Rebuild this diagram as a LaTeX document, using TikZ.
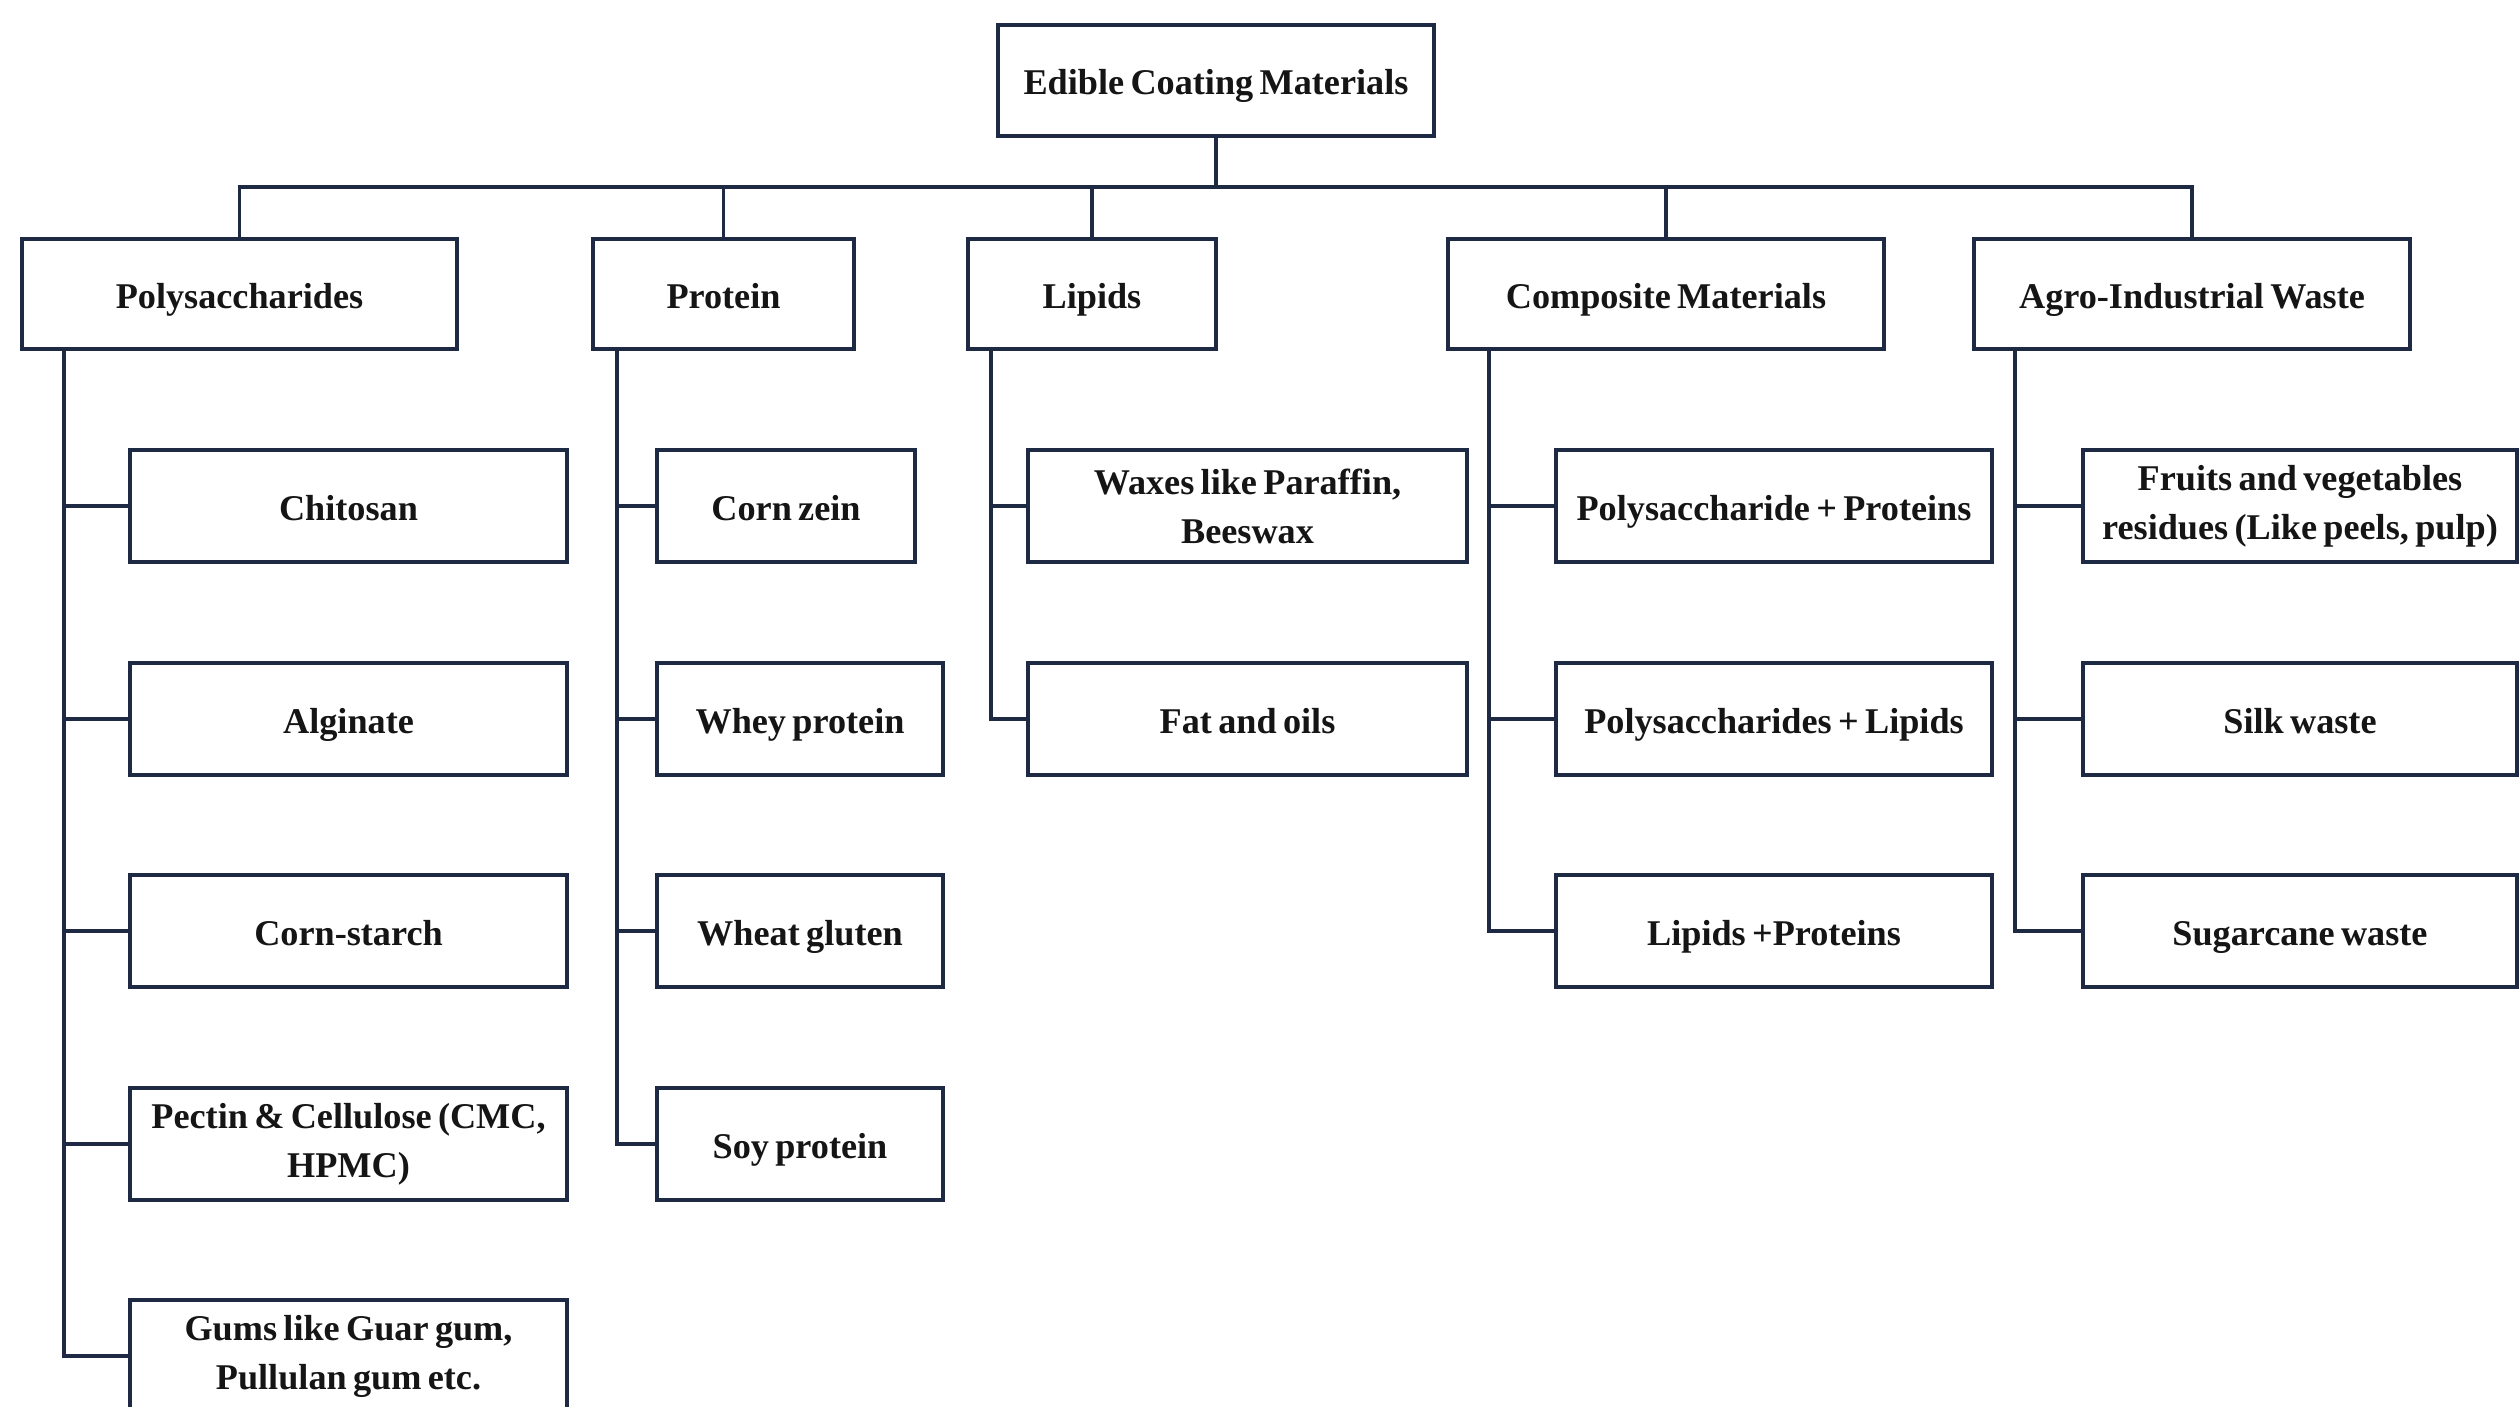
\documentclass[tikz,border=0pt]{standalone}
\usepackage{fontspec}
\setmainfont{Liberation Serif}[WordSpace=0.7]
\definecolor{navy}{HTML}{1E2A44}
\definecolor{ink}{HTML}{151515}
\begin{document}
\begin{tikzpicture}[x=0.01cm,y=-0.01cm,
  box/.style={draw=navy,line width=1.3pt,fill=white,text=ink,align=center,inner sep=2pt,
    text height=1.0em,text depth=0.2em,
    font=\fontsize{10.3}{13.9}\selectfont\bfseries},
  twoline/.style={draw=navy,line width=1.3pt,fill=white,text=ink,align=center,inner sep=2pt,
    font=\fontsize{10.3}{13.9}\selectfont\bfseries},
  conn/.style={draw=navy,line width=1.1pt}]
\useasboundingbox[fill=white] (0,0) rectangle (2520,1407);

% root and level 1
\node[box,minimum width=4.36cm,minimum height=1.11cm] (root) at (1216,80.5) {Edible Coating Materials};
\node[box,minimum width=4.35cm,minimum height=1.10cm] (poly) at (239.5,294) {Polysaccharides};
\node[box,minimum width=2.61cm,minimum height=1.10cm] (prot) at (723.5,294) {Protein};
\node[box,minimum width=2.48cm,minimum height=1.10cm] (lip) at (1092,294) {Lipids};
\node[box,minimum width=4.36cm,minimum height=1.10cm] (comp) at (1666,294) {Composite Materials};
\node[box,minimum width=4.36cm,minimum height=1.10cm] (agro) at (2192,294) {Agro-Industrial Waste};

% polysaccharides children
\node[box,minimum width=4.37cm,minimum height=1.12cm] (p1) at (348.5,506) {Chitosan};
\node[box,minimum width=4.37cm,minimum height=1.12cm] (p2) at (348.5,719) {Alginate};
\node[box,minimum width=4.37cm,minimum height=1.12cm] (p3) at (348.5,931) {Corn-starch};
\node[twoline,minimum width=4.37cm,minimum height=1.12cm] (p4) at (348.5,1144) {Pectin \& Cellulose (CMC,\\HPMC)};
\node[twoline,minimum width=4.37cm,minimum height=1.12cm] (p5) at (348.5,1356) {Gums like Guar gum,\\Pullulan gum etc.};

% protein children
\node[box,minimum width=2.58cm,minimum height=1.12cm] (r1) at (786,506) {Corn zein};
\node[box,minimum width=2.86cm,minimum height=1.12cm] (r2) at (800,719) {Whey protein};
\node[box,minimum width=2.86cm,minimum height=1.12cm] (r3) at (800,931) {Wheat gluten};
\node[box,minimum width=2.86cm,minimum height=1.12cm] (r4) at (800,1144) {Soy protein};

% lipid children
\node[twoline,minimum width=4.39cm,minimum height=1.12cm] (l1) at (1247.5,506) {Waxes like Paraffin,\\Beeswax};
\node[box,minimum width=4.39cm,minimum height=1.12cm] (l2) at (1247.5,719) {Fat and oils};

% composite children
\node[box,minimum width=4.36cm,minimum height=1.12cm] (c1) at (1774,506) {Polysaccharide + Proteins};
\node[box,minimum width=4.36cm,minimum height=1.12cm] (c2) at (1774,719) {Polysaccharides + Lipids};
\node[box,minimum width=4.36cm,minimum height=1.12cm] (c3) at (1774,931) {Lipids +Proteins};

% agro children
\node[twoline,minimum width=4.34cm,minimum height=1.12cm] (a1) at (2300,506) {Fruits and vegetables\\residues (Like peels, pulp)};
\node[box,minimum width=4.34cm,minimum height=1.12cm] (a2) at (2300,719) {Silk waste};
\node[box,minimum width=4.34cm,minimum height=1.12cm] (a3) at (2300,931) {Sugarcane waste};

% bus
\coordinate (bus) at (1216,187);
\draw[conn] (root.south) -- (bus);
\draw[conn] (poly.north) -- (poly.north |- bus) -- (agro.north |- bus) -- (agro.north);
\draw[conn] (prot.north) -- (prot.north |- bus);
\draw[conn] (lip.north) -- (lip.north |- bus);
\draw[conn] (comp.north) -- (comp.north |- bus);

% spines
\coordinate (sP) at ([xshift=0.44cm]poly.south west);
\coordinate (sR) at ([xshift=0.26cm]prot.south west);
\coordinate (sL) at ([xshift=0.25cm]lip.south west);
\coordinate (sC) at ([xshift=0.43cm]comp.south west);
\coordinate (sA) at ([xshift=0.43cm]agro.south west);

\draw[conn] (sP) |- (p5.west);
\foreach \n in {p1,p2,p3,p4} \draw[conn] (sP |- \n.west) -- (\n.west);
\draw[conn] (sR) |- (r4.west);
\foreach \n in {r1,r2,r3} \draw[conn] (sR |- \n.west) -- (\n.west);
\draw[conn] (sL) |- (l2.west);
\draw[conn] (sL |- l1.west) -- (l1.west);
\draw[conn] (sC) |- (c3.west);
\foreach \n in {c1,c2} \draw[conn] (sC |- \n.west) -- (\n.west);
\draw[conn] (sA) |- (a3.west);
\foreach \n in {a1,a2} \draw[conn] (sA |- \n.west) -- (\n.west);
\end{tikzpicture}
\end{document}
